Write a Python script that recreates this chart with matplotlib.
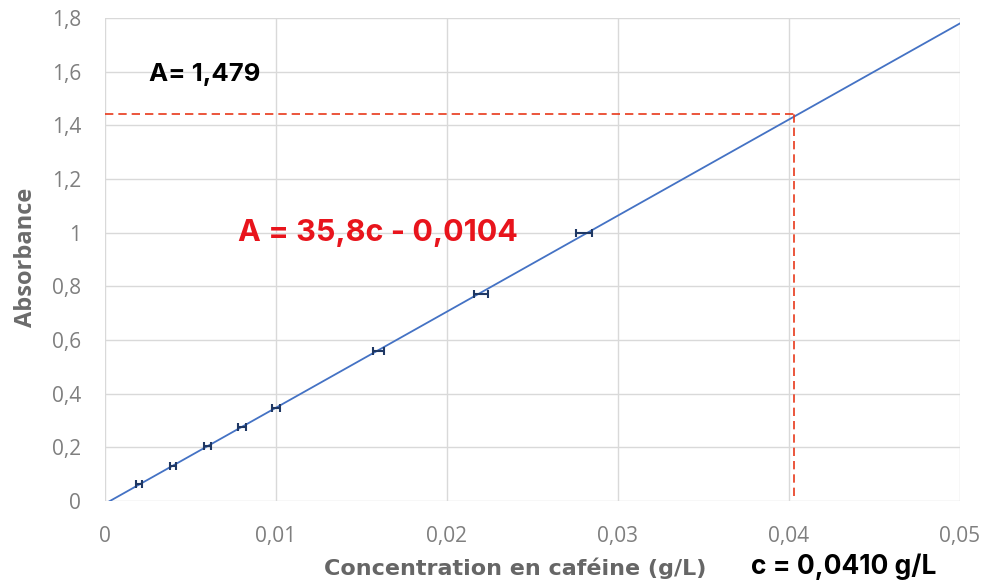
import numpy as np
import matplotlib
matplotlib.use("Agg")
import matplotlib.pyplot as plt
from matplotlib import ticker

# --- Data ---
conc = [0.002, 0.004, 0.006, 0.008, 0.010, 0.016, 0.022, 0.028]
absorb = [0.062, 0.131, 0.205, 0.275, 0.348, 0.560, 0.770, 0.997]
conc_err = [0.00018, 0.00018, 0.0002, 0.00022, 0.00025, 0.0003, 0.0004, 0.00047]

slope = 35.8
intercept = -0.0104
fit_x = [0.0, 0.05]

c_read = 0.0403
a_read = 1.442

x_ticks = [0, 0.01, 0.02, 0.03, 0.04, 0.05]
y_ticks = [0, 0.2, 0.4, 0.6, 0.8, 1.0, 1.2, 1.4, 1.6, 1.8]


def fr(v, pos=None):
    s = f"{v:.2f}".rstrip("0").rstrip(".")
    return s.replace(".", ",")


fig = plt.figure(figsize=(9.94, 5.85), dpi=100)
ax = fig.add_axes([0.1056, 0.1436, 0.860, 0.8256])

grid_col = "#d9d9d9"
ax.set_xlim(0, 0.05)
ax.set_ylim(0, 1.8)
ax.set_xticks(x_ticks)
ax.set_yticks(y_ticks)
ax.xaxis.set_major_formatter(ticker.FuncFormatter(fr))
ax.yaxis.set_major_formatter(ticker.FuncFormatter(fr))
ax.grid(True, color=grid_col, linewidth=1)
ax.set_axisbelow(True)
for s in ax.spines.values():
    s.set_visible(False)
ax.tick_params(length=0, labelsize=15, colors="#7f7f7f")
ax.tick_params(axis="y", pad=17)
ax.tick_params(axis="x", pad=18)
for lab in ax.get_xticklabels() + ax.get_yticklabels():
    lab.set_fontfamily("Open Sans")

# trend line
fx = np.array(fit_x)
ax.plot(fx, slope * fx + intercept, color="#4472C4", linewidth=1.3, zorder=2)

# data points with horizontal error bars
ax.errorbar(conc, absorb, xerr=conc_err, fmt="none", ecolor="#1f3864",
            elinewidth=1.5, capsize=3, capthick=1.5, zorder=3)

# reading lines
ax.plot([0, c_read], [a_read, a_read], color="#e8381a", linestyle=(0, (5, 3)), linewidth=1.2, zorder=4)
ax.plot([c_read, c_read], [0.02, a_read], color="#e8381a", linestyle=(0, (5, 3)), linewidth=1.2, zorder=4)

# annotations
ax.text(0.0026, 1.59, "A= 1,479", fontsize=18.5, fontweight="bold", color="black",
        fontfamily="Inter", va="center")
ax.text(0.0078, 0.998, "A = 35,8c - 0,0104", fontsize=22, fontweight="bold",
        color="#e8141c", fontfamily="Inter", va="center")

fig.text(0.518, 0.029, "Concentration en caféine (g/L)", fontsize=16, fontweight="bold",
         color="#666666", fontfamily="DejaVu Sans", ha="center", va="center")
fig.text(0.849, 0.032, "c = 0,0410 g/L", fontsize=19, fontweight="bold",
         color="black", fontfamily="Inter", ha="center", va="center")
fig.text(0.026, 0.560, "Absorbance", fontsize=17, fontweight="bold", color="#6b6b6b",
         fontfamily="Open Sans", rotation=90, ha="center", va="center")

fig.savefig("out.png", dpi=100)
